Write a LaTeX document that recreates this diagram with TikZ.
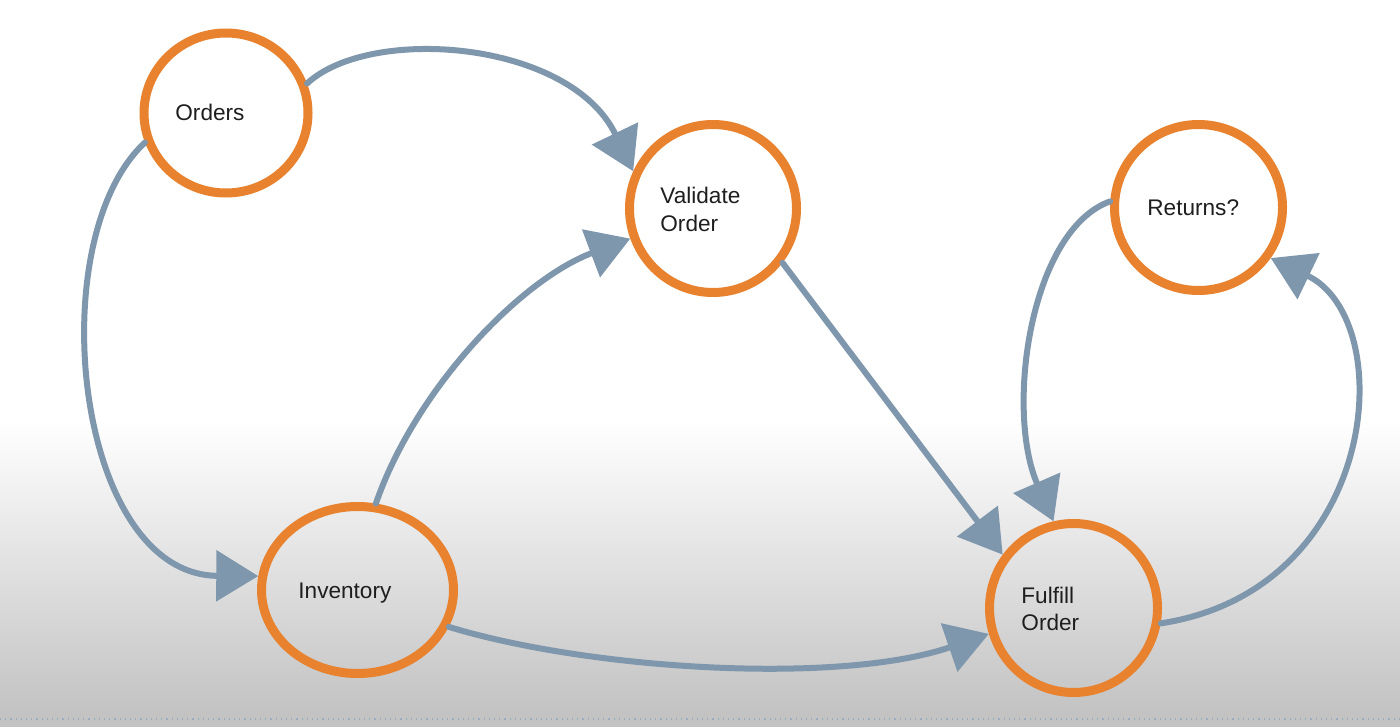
\documentclass[tikz,border=0pt]{standalone}
\usepackage{fontspec}
\setmainfont{Liberation Sans}
\usetikzlibrary{arrows.meta,shapes.geometric}
\definecolor{ringor}{HTML}{E8822E}
\definecolor{arrowblue}{HTML}{7F97AD}
\definecolor{inktext}{HTML}{1E1E1E}
\definecolor{bgmid}{HTML}{E0E0E0}
\definecolor{bgbottom}{HTML}{C3C3C3}
\begin{document}
\begin{tikzpicture}[x=0.5pt,y=-0.5pt,
  ring/.style={ellipse, draw=ringor, line width=4.5pt, inner sep=0pt},
  flow/.style={draw=arrowblue, line width=3pt, line cap=round,
    -{Triangle[length=21pt,width=25pt]}},
  nodetext/.style={anchor=west, inner sep=0pt, align=left, text=inktext,
    font=\fontsize{11.3}{13.8}\selectfont}]
\useasboundingbox (0,0) rectangle (1400,727);
% background
\fill[white] (0,0) rectangle (1400,727);
\shade[top color=white, middle color=bgmid, bottom color=bgbottom] (0,420) rectangle (1400,712);
\fill[bgbottom] (0,712) rectangle (1400,727);
\draw[arrowblue!80, line width=0.6pt, dotted] (0,719) -- (1400,719);
% rings
\node[ring, minimum width=82pt, minimum height=80pt] (orders) at (226,113) {};
\node[ring, minimum width=83.5pt, minimum height=84pt] (validate) at (713,208.5) {};
\node[ring, minimum width=84pt, minimum height=83pt] (returns) at (1198.5,207.5) {};
\node[ring, minimum width=96pt, minimum height=83.5pt] (inventory) at (357.5,590) {};
\node[ring, minimum width=84pt, minimum height=84.5pt] (fulfill) at (1073.5,608) {};
% texts
\node[nodetext] (ordersT) at (175,112) {Orders};
\node[nodetext] (validateT) at (660,209.5) {Validate\\Order};
\node[nodetext] (returnsT) at (1147,208) {Returns?};
\node[nodetext] (inventoryT) at (298,593) {Inventory};
\node[nodetext] (fulfillT) at (1021,609) {Fulfill\\Order};
% connectors
\draw[flow] (orders.20) .. controls (370,25) and (570,40) .. (validate.155);
\draw[flow] (orders.200) .. controls (40,240) and (75,575) .. (inventory.172);
\draw[flow] (inventory.78) .. controls (415,390) and (520,280) .. (validate.200);
\draw[flow] (validate.-38) -- (fulfill.143);
\draw[flow] (inventory.-22) .. controls (590,670) and (840,685) .. (fulfill.197);
\draw[flow] (returns.176) .. controls (1030,230) and (1005,410) .. (fulfill.103);
\draw[flow] (fulfill.-10) .. controls (1380,590) and (1400,320) .. (returns.-35);
\end{tikzpicture}
\end{document}
